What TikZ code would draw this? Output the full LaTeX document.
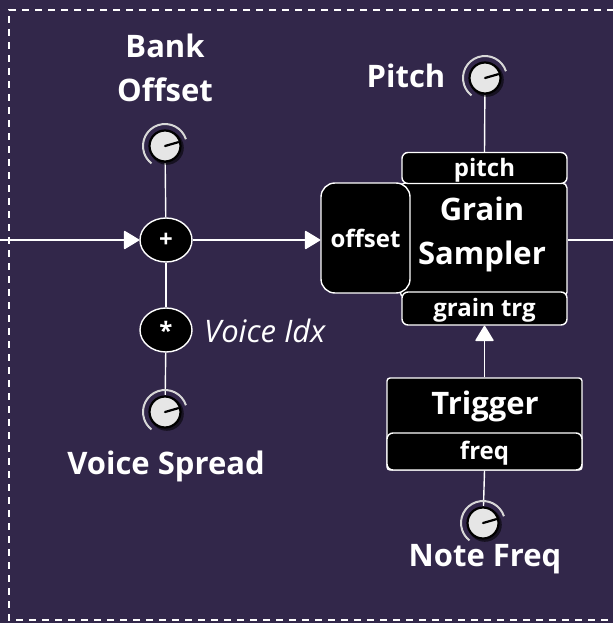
\documentclass[tikz,border=0pt]{standalone}
\usepackage{fontspec}
\setmainfont{Open Sans}
\usetikzlibrary{arrows.meta,shapes.geometric}
\definecolor{bg}{HTML}{32274A}
\definecolor{knobface}{HTML}{E6E6E6}
\definecolor{knobring}{HTML}{D8D8D8}
% port captions sit a little low, keeping their nominal size
\newcommand{\portlbl}[1]{\raisebox{-2pt}[\height][\depth]{#1}}
\tikzset{
  wire/.style={white, line width=1.4pt},
  flow/.style={wire, -{Triangle[length=16pt,width=19pt,round]}},
  title/.style={text=white, font=\bfseries\fontsize{31}{44}\selectfont, align=center, inner sep=0pt},
  note/.style={text=white, font=\itshape\fontsize{31}{36}\selectfont, inner sep=0pt},
  op/.style={ellipse, fill=black, draw=white, line width=1.4pt, minimum width=52pt, minimum height=44pt,
    inner sep=0pt, text=white, font=\bfseries\fontsize{24}{28}\selectfont},
  block/.style={rectangle, fill=black, draw=white, line width=1.4pt, rounded corners=5pt, inner sep=0pt},
  port/.style={rectangle, fill=black, draw=white, line width=1.4pt, rounded corners=6pt, inner sep=0pt,
    text=white, font=\bfseries\fontsize{24}{28}\selectfont},
  knobspot/.style={circle, minimum size=34pt, inner sep=0pt},
  knob/.pic={
    \fill[black, opacity=.55] (1.8,1.8) circle (17);
    \draw[black, line width=2.2pt, fill=knobface] (0,0) circle (15.5);
    \draw[black, line width=2.2pt, line cap=round] (0,0) -- (-16:14);
    \draw[knobring, line width=2pt] (-18:22) arc[start angle=-18, end angle=-232, radius=22];
  }
}
\begin{document}
\begin{tikzpicture}[x=1pt, y=-1pt]
  \fill[bg] (0,0) rectangle (613,623);
  \useasboundingbox (0,0) rectangle (613,623);
  % dashed frame of the group
  \draw[white, line width=1.4pt, dash pattern=on 7pt off 6pt] (640,10) -- (9,10) -- (9,620) -- (640,620);

  % bank offset / voice spread chain
  \node[title] (lbank) at (165,68) {Bank\\Offset};
  \node[knobspot] (kbank) at (165,146) {};
  \node[op] (plus) at (166,240) {+};
  \node[op] (mul) at (166,330) {*};
  \node[note, anchor=west] (lidx) at (204,331) {Voice Idx};
  \node[knobspot] (kspread) at (165,412) {};
  \node[title] (lspread) at (166,466) {Voice Spread};

  % grain sampler
  \node[block, minimum width=167pt, minimum height=114pt] (gs) at (483.5,240) {};
  \node[title] (lgs) at (482,234) {Grain\\Sampler};
  \node[port, minimum width=165pt, minimum height=31pt] (pitch) at (484.5,168) {\portlbl{pitch}};
  \node[port, minimum width=165pt, minimum height=33pt] (gtrg) at (484.5,308.5) {\portlbl{grain trg}};
  \node[port, rounded corners=14pt, minimum width=89pt, minimum height=110pt] (offset) at (365.5,238) {offset};

  % pitch knob
  \node[title] (lpitch) at (406,76) {Pitch};
  \node[knobspot] (kpitch) at (485,78) {};

  % trigger
  \node[block, rounded corners=3pt, minimum width=195pt, minimum height=92pt] (trig) at (484.5,424) {};
  \node[title] (ltrig) at (485,406) {Trigger};
  \node[port, minimum width=195pt, minimum height=37pt] (freq) at (484.5,451.5) {\portlbl{freq}};
  \node[knobspot] (knote) at (483,523) {};
  \node[title] (lnote) at (485,559) {Note Freq};

  % connectors
  \coordinate (inl) at (0,240);
  \coordinate (outr) at (613,240);
  \draw[flow] (inl) -- (plus.west);
  \draw[flow] (plus.east) -- (offset.west |- plus.east);
  \draw[wire] (gs.east) -- (outr);
  \draw[wire] (kbank) -- (plus);
  \draw[wire] (plus) -- (mul);
  \draw[wire] (mul) -- (kspread);
  \draw[wire] (kpitch) -- (pitch.north);
  \draw[flow] (trig.north) -- (gtrg.south);
  \draw[wire] (freq.south) -- (knote);

  % knobs on top of their wires
  \pic at (kbank) {knob};
  \pic at (kspread) {knob};
  \pic at (kpitch) {knob};
  \pic at (knote) {knob};
\end{tikzpicture}
\end{document}
